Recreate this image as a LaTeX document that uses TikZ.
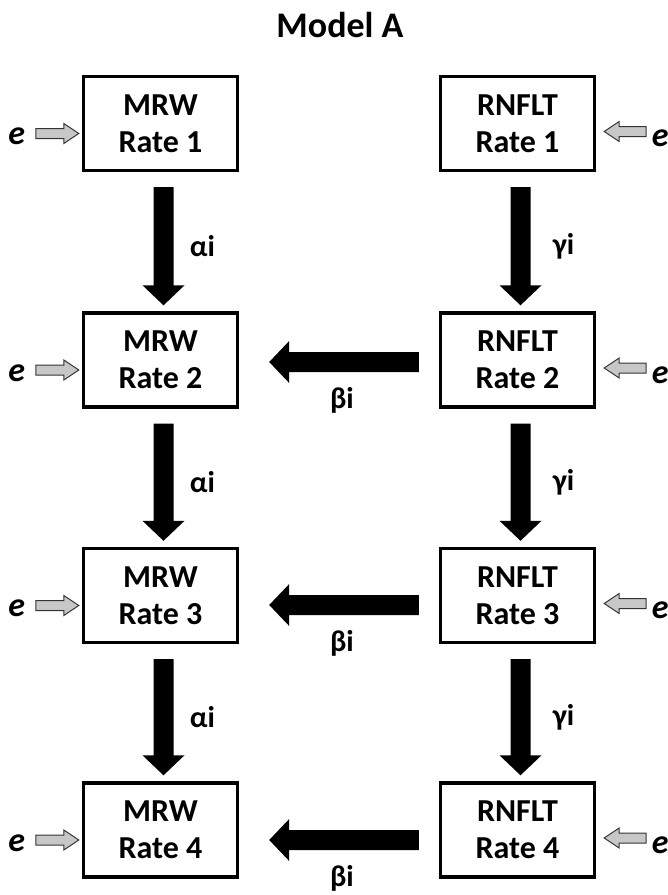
\documentclass[tikz,border=0pt]{standalone}
\usepackage{fontspec}
\setmainfont{Carlito}
\usetikzlibrary{calc}

% solid black arrow pointing down: tail (#1) at the top of the shaft, tip (#2)
\newcommand\fatdown[2]{%
  \fill[bigarrow] ($(#1)+(-10,0)$) -- ($(#2)+(-10,-20)$) -- ($(#2)+(-21,-20)$) -- (#2)
    -- ($(#2)+(21,-20)$) -- ($(#2)+(10,-20)$) -- ($(#1)+(10,0)$) -- cycle;}
% solid black arrow pointing left: tail (#1) at the right end of the shaft, tip (#2)
\newcommand\fatleft[2]{%
  \fill[bigarrow] ($(#1)+(0,-10)$) -- ($(#2)+(20,-10)$) -- ($(#2)+(20,-21)$) -- (#2)
    -- ($(#2)+(20,21)$) -- ($(#2)+(20,10)$) -- ($(#1)+(0,10)$) -- cycle;}
% small outlined grey arrows for the error terms
\newcommand\greyright[2]{%
  \draw[errarrow] ($(#1)+(0,-5)$) -- ($(#2)+(-15,-5)$) -- ($(#2)+(-15,-10)$) -- (#2)
    -- ($(#2)+(-15,10)$) -- ($(#2)+(-15,5)$) -- ($(#1)+(0,5)$) -- cycle;}
\newcommand\greyleft[2]{%
  \draw[errarrow] ($(#1)+(0,-5)$) -- ($(#2)+(15,-5)$) -- ($(#2)+(15,-10)$) -- (#2)
    -- ($(#2)+(15,10)$) -- ($(#2)+(15,5)$) -- ($(#1)+(0,5)$) -- cycle;}

\begin{document}
\begin{tikzpicture}[x=1pt,y=-1pt,
  ratebox/.style={draw, line width=3.4pt, minimum width=154pt, minimum height=94pt,
    align=center, inner sep=0pt, font=\fontsize{32}{37}\selectfont\bfseries},
  lab/.style={inner sep=0pt, font=\fontsize{30}{32}\selectfont\bfseries},
  errlab/.style={inner sep=0pt, font=\fontsize{34}{34}\selectfont\bfseries\itshape},
  bigarrow/.style={fill=black},
  errarrow/.style={fill=black!22, draw=black!80, line width=1pt, line join=miter}]
\useasboundingbox (0,0) rectangle (668,895);

\node[inner sep=0pt, font=\fontsize{36}{38}\selectfont\bfseries] (title) at (340,25) {Model A};

% rate boxes
\node[ratebox] (m1) at (160.5,123.5) {MRW\\Rate 1};
\node[ratebox] (m2) at (160.5,360) {MRW\\Rate 2};
\node[ratebox] (m3) at (160.5,595.5) {MRW\\Rate 3};
\node[ratebox] (m4) at (160.5,830) {MRW\\Rate 4};
\node[ratebox] (r1) at (517.5,123.5) {RNFLT\\Rate 1};
\node[ratebox] (r2) at (517.5,360) {RNFLT\\Rate 2};
\node[ratebox] (r3) at (517.5,595.5) {RNFLT\\Rate 3};
\node[ratebox] (r4) at (517.5,830) {RNFLT\\Rate 4};

% vertical paths
\foreach \a/\b/\n in {1/2/1,2/3/2,3/4/3}{
  \coordinate (ma\n s) at ($(m\a.south)+(3,15)$);
  \coordinate (ma\n e) at ($(m\b.north)+(3,-6)$);
  \fatdown{ma\n s}{ma\n e}
  \node[lab] (alpha\n) at ($($(ma\n s)!0.5!(ma\n e)$)+(39,0)$) {αi};
  \coordinate (ra\n s) at ($(r\a.south)+(3,15)$);
  \coordinate (ra\n e) at ($(r\b.north)+(3,-6)$);
  \fatdown{ra\n s}{ra\n e}
  \node[lab] (gamma\n) at ($($(ra\n s)!0.5!(ra\n e)$)+(43,0)$) {γi};
}

% cross paths from RNFLT to MRW
\foreach \k/\dy in {2/2,3/9.5,4/10}{
  \coordinate (bs\k) at ($(r\k.west)+(-20,\dy)$);
  \coordinate (be\k) at ($(m\k.east)+(30,\dy)$);
  \fatleft{bs\k}{be\k}
  \node[lab] (beta\k) at ($($(bs\k)!0.5!(be\k)$)+(-2,38)$) {βi};
}

% error terms
\foreach \k in {1,2,3,4}{
  \coordinate (elt\k) at ($(m\k.west)+(-3,10)$);
  \coordinate (els\k) at ($(elt\k)+(-43,0)$);
  \greyright{els\k}{elt\k}
  \node[errlab] (el\k) at ($(els\k)+(-19,3)$) {e};
  \coordinate (ert\k) at ($(r\k.east)+(8,8)$);
  \coordinate (ers\k) at ($(ert\k)+(42,0)$);
  \greyleft{ers\k}{ert\k}
  \node[errlab] (er\k) at ($(ers\k)+(14,7)$) {e};
}
\end{tikzpicture}
\end{document}
